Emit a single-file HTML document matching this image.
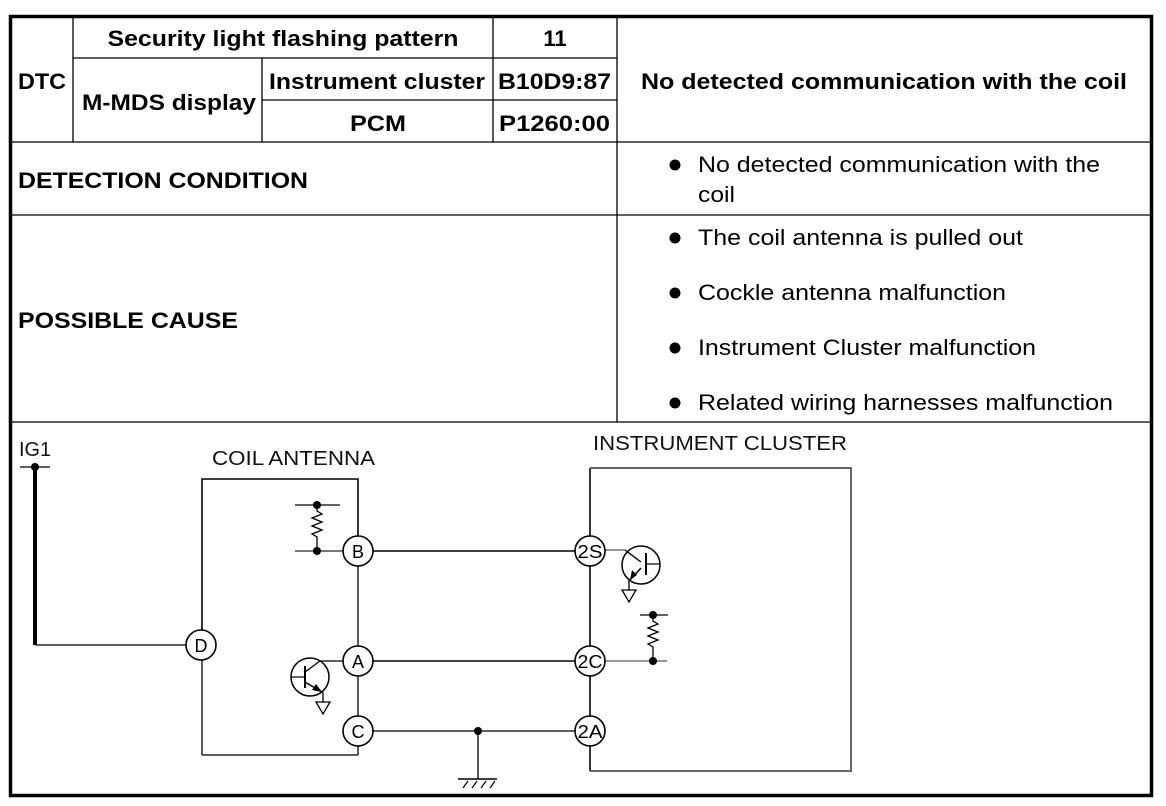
<!DOCTYPE html>
<html><head><meta charset="utf-8"><style>
html,body{margin:0;padding:0;background:#fff;}
svg{display:block;}
text{font-family:"Liberation Sans",Arial,sans-serif;fill:#000;}
.b{font-weight:bold;font-size:22px;}
.n{font-size:22px;}
.s{font-size:20px;fill:#111;}
.c{font-size:18px;}
</style></head><body>
<svg width="1166" height="806" viewBox="0 0 1166 806" xmlns="http://www.w3.org/2000/svg">
<rect width="1166" height="806" fill="#fff"/>
<g stroke="#000" stroke-width="1.3" fill="none">
<line x1="73" y1="15" x2="73" y2="142"/>
<line x1="493" y1="15" x2="493" y2="142"/>
<line x1="617" y1="15" x2="617" y2="422"/>
<line x1="262" y1="58" x2="262" y2="142"/>
<line x1="73" y1="58" x2="617" y2="58"/>
<line x1="262" y1="100" x2="617" y2="100"/>
<line x1="9" y1="142" x2="1152" y2="142"/>
<line x1="9" y1="215" x2="1152" y2="215"/>
<line x1="9" y1="422" x2="1152" y2="422"/>
</g>
<rect x="10.5" y="16.5" width="1141" height="779" fill="none" stroke="#000" stroke-width="3.5"/>
<text class="b" x="283" y="46" text-anchor="middle" textLength="351" lengthAdjust="spacingAndGlyphs">Security light flashing pattern</text>
<text class="b" x="555" y="46" text-anchor="middle">11</text>
<text class="b" x="18" y="89" textLength="48" lengthAdjust="spacingAndGlyphs">DTC</text>
<text class="b" x="82" y="110" textLength="174" lengthAdjust="spacingAndGlyphs">M-MDS display</text>
<text class="b" x="269" y="89" textLength="216" lengthAdjust="spacingAndGlyphs">Instrument cluster</text>
<text class="b" x="498" y="89" textLength="113" lengthAdjust="spacingAndGlyphs">B10D9:87</text>
<text class="b" x="378" y="131" text-anchor="middle" textLength="56" lengthAdjust="spacingAndGlyphs">PCM</text>
<text class="b" x="499" y="131" textLength="111" lengthAdjust="spacingAndGlyphs">P1260:00</text>
<text class="b" x="641" y="89" textLength="486" lengthAdjust="spacingAndGlyphs">No detected communication with the coil</text>
<text class="b" x="18" y="188" textLength="290" lengthAdjust="spacingAndGlyphs">DETECTION CONDITION</text>
<text class="b" x="18" y="328" textLength="220" lengthAdjust="spacingAndGlyphs">POSSIBLE CAUSE</text>
<g fill="#000">
<circle cx="675" cy="165" r="5.5"/><circle cx="675" cy="238" r="5.5"/><circle cx="675" cy="293" r="5.5"/><circle cx="675" cy="348" r="5.5"/><circle cx="675" cy="403" r="5.5"/>
</g>
<text class="n" x="698" y="172" textLength="402" lengthAdjust="spacingAndGlyphs">No detected communication with the</text>
<text class="n" x="698" y="202" textLength="37" lengthAdjust="spacingAndGlyphs">coil</text>
<text class="n" x="698" y="245" textLength="325" lengthAdjust="spacingAndGlyphs">The coil antenna is pulled out</text>
<text class="n" x="698" y="300" textLength="308" lengthAdjust="spacingAndGlyphs">Cockle antenna malfunction</text>
<text class="n" x="698" y="355" textLength="338" lengthAdjust="spacingAndGlyphs">Instrument Cluster malfunction</text>
<text class="n" x="698" y="410" textLength="415" lengthAdjust="spacingAndGlyphs">Related wiring harnesses malfunction</text>
<text class="s" x="19" y="456" textLength="32" lengthAdjust="spacingAndGlyphs">IG1</text>
<text class="s" x="212" y="465" textLength="163" lengthAdjust="spacingAndGlyphs">COIL ANTENNA</text>
<text class="s" x="593" y="450" textLength="254" lengthAdjust="spacingAndGlyphs">INSTRUMENT CLUSTER</text>
<g stroke="#000" fill="none">
<line x1="20" y1="467" x2="50" y2="467" stroke-width="1.2"/>
<line x1="35" y1="467" x2="35" y2="645" stroke-width="4"/>
<line x1="35" y1="645" x2="186" y2="645" stroke-width="1.3"/>
<polyline points="202,630 202,479 358,479 358,536" stroke-width="1.6"/>
<line x1="202" y1="660" x2="202" y2="755" stroke-width="1.3"/>
<line x1="202" y1="755" x2="358" y2="755" stroke-width="1.3"/>
<line x1="358" y1="566" x2="358" y2="646" stroke-width="1.3"/>
<line x1="358" y1="676" x2="358" y2="716" stroke-width="1.3"/>
<line x1="358" y1="746" x2="358" y2="755" stroke-width="1.3"/>
<line x1="295" y1="505" x2="340" y2="505" stroke-width="1.2"/>
<polyline points="317,505 317,511 322,514 312,518 322,522 312,526 322,530 312,534 317,537 317,551" stroke-width="1.3"/>
<line x1="295" y1="551" x2="343" y2="551" stroke="#777" stroke-width="2"/>
<line x1="373" y1="551" x2="575" y2="551" stroke-width="1.6"/>
<line x1="373" y1="661" x2="575" y2="661" stroke="#444" stroke-width="2"/>
<line x1="373" y1="731" x2="575" y2="731" stroke-width="1.3"/>
<line x1="478" y1="731" x2="478" y2="779" stroke="#555" stroke-width="2"/>
<line x1="458" y1="779" x2="497" y2="779" stroke-width="1.6"/>
<line x1="463" y1="788" x2="468" y2="781" stroke-width="1.2"/>
<line x1="472" y1="788" x2="477" y2="781" stroke-width="1.2"/>
<line x1="481" y1="788" x2="486" y2="781" stroke-width="1.2"/>
<line x1="490" y1="788" x2="495" y2="781" stroke-width="1.2"/>
<circle cx="310" cy="677" r="19" stroke-width="1.5"/>
<line x1="291" y1="677" x2="305" y2="677" stroke-width="1.2"/>
<line x1="305" y1="666" x2="305" y2="688" stroke-width="2"/>
<polyline points="305,672 320,661 343,661" stroke-width="1.3"/>
<line x1="305" y1="682" x2="322" y2="692" stroke-width="1.5"/>
<line x1="323" y1="692" x2="323" y2="702" stroke-width="1.3"/>
<polygon points="316,702 330,702 323,714" stroke-width="1.3"/>
<line x1="590" y1="468" x2="590" y2="536" stroke-width="1.6"/>
<line x1="590" y1="566" x2="590" y2="646" stroke-width="1.6"/>
<line x1="590" y1="676" x2="590" y2="716" stroke-width="1.6"/>
<line x1="590" y1="746" x2="590" y2="771" stroke-width="1.6"/>
<polyline points="590,468 851,468 851,771 590,771" stroke="#666" stroke-width="2"/>
<circle cx="641" cy="565" r="19" stroke-width="1.5"/>
<line x1="605" y1="550" x2="625" y2="550" stroke="#777" stroke-width="1.5"/>
<polyline points="625,550 641,562" stroke-width="1.3"/>
<line x1="646" y1="553" x2="646" y2="575" stroke-width="2"/>
<line x1="646" y1="564" x2="660" y2="564" stroke-width="1.2"/>
<line x1="641" y1="568" x2="630" y2="580" stroke-width="1.5"/>
<line x1="629" y1="580" x2="629" y2="590" stroke-width="1.3"/>
<polygon points="622,590 636,590 629,602" stroke-width="1.3"/>
<line x1="640" y1="615" x2="668" y2="615" stroke-width="1.2"/>
<polyline points="653,615 653,621 658,624 648,628 658,632 648,636 658,640 648,644 653,647 653,661" stroke-width="1.3"/>
<line x1="605" y1="661" x2="667" y2="661" stroke="#777" stroke-width="1.6"/>
</g>
<g fill="#000">
<circle cx="35" cy="467" r="4"/>
<circle cx="317" cy="505" r="4"/><circle cx="317" cy="551" r="4"/>
<circle cx="478" cy="731" r="4"/>
<circle cx="653" cy="615" r="4"/><circle cx="653" cy="661" r="4"/>
<polygon points="322,692 312,690 316,684"/>
<polygon points="630,580 632,570 637,575"/>
</g>
<g stroke="#000" stroke-width="1.6" fill="#fff">
<circle cx="201" cy="645" r="15"/>
<circle cx="358" cy="551" r="15"/>
<circle cx="358" cy="661" r="15"/>
<circle cx="358" cy="731" r="15"/>
<circle cx="590" cy="551" r="15"/>
<circle cx="590" cy="661" r="15"/>
<circle cx="590" cy="731" r="15"/>
</g>
<text class="c" x="201" y="652" text-anchor="middle">D</text>
<text class="c" x="358" y="558" text-anchor="middle">B</text>
<text class="c" x="358" y="668" text-anchor="middle">A</text>
<text class="c" x="358" y="738" text-anchor="middle">C</text>
<text class="c" x="590" y="558" text-anchor="middle" textLength="25" lengthAdjust="spacingAndGlyphs">2S</text>
<text class="c" x="590" y="668" text-anchor="middle" textLength="25" lengthAdjust="spacingAndGlyphs">2C</text>
<text class="c" x="590" y="738" text-anchor="middle" textLength="25" lengthAdjust="spacingAndGlyphs">2A</text>
</svg>
</body></html>
